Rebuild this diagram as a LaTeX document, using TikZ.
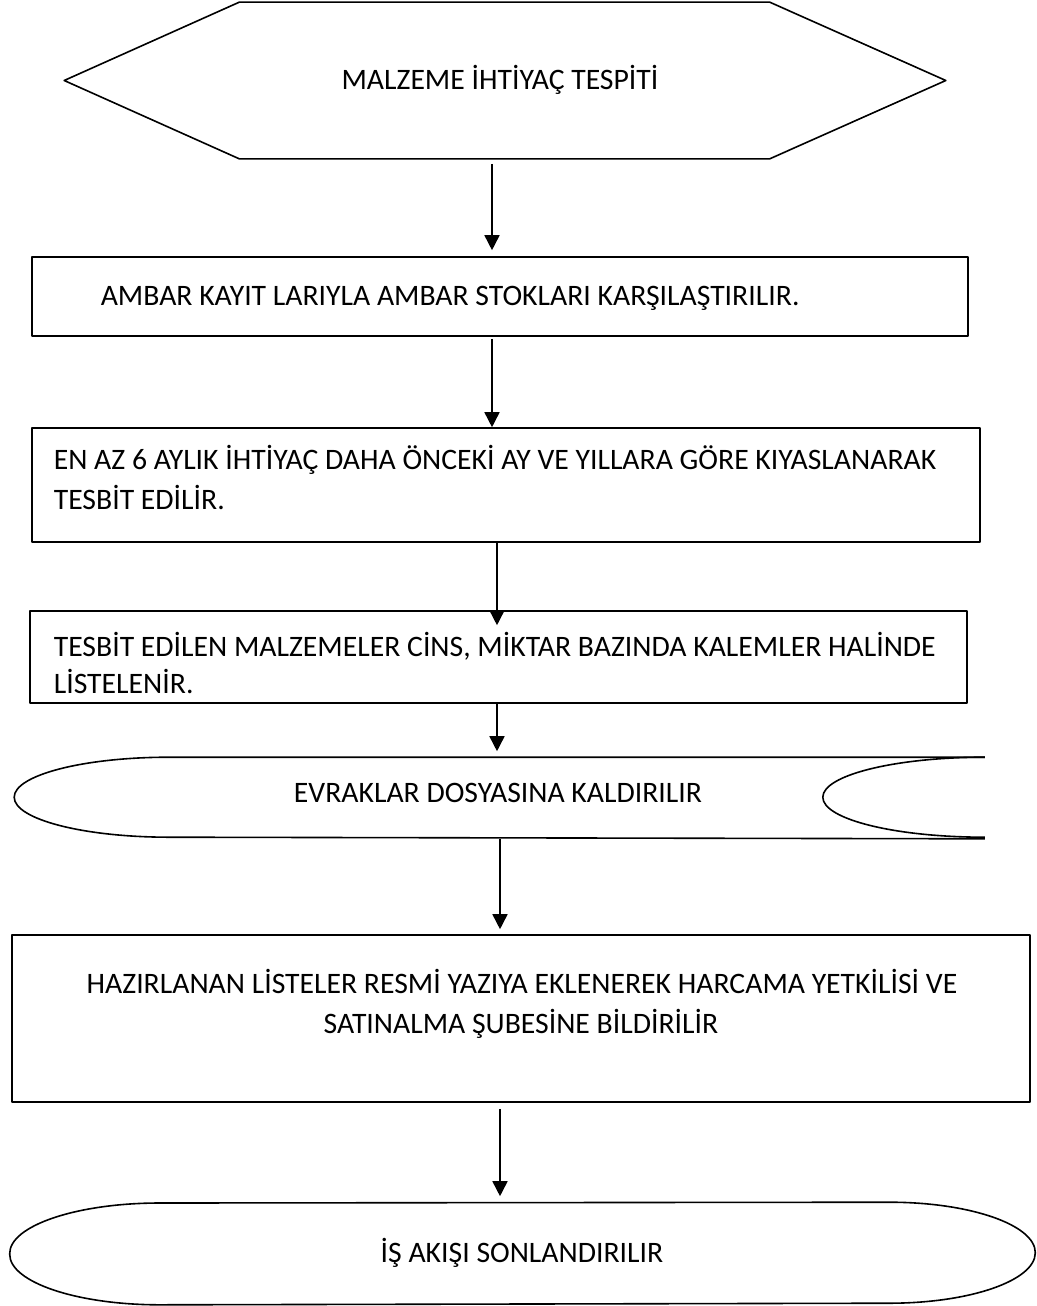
\documentclass[tikz,border=0pt]{standalone}
\usepackage{fontspec}
\setmainfont{Carlito}
\usetikzlibrary{arrows.meta,calc}
\begin{document}
\begin{tikzpicture}[x=1pt,y=-1pt,line width=1.6pt,line join=round,
  arr/.style={-{Triangle[width=15pt,length=15pt]},line width=1.6pt},
  box/.style={draw,rectangle,inner sep=0pt,line width=1.6pt},
  ghost/.style={rectangle,inner sep=0pt},
  lbl/.style={inner sep=0pt,font=\fontsize{29.7}{40}\selectfont}]
\useasboundingbox (0,0) rectangle (1036,1306);

% hexagon
\node[ghost,minimum width=880pt,minimum height=155pt] (hex) at (505,80.5) {};
\draw (hex.west) -- ([xshift=175pt]hex.north west) -- ([xshift=-176pt]hex.north east)
  -- (hex.east) -- ([xshift=-176pt]hex.south east) -- ([xshift=175pt]hex.south west) -- cycle;
\node[lbl,anchor=base] (hext) at (500,89) {MALZEME İHTİYAÇ TESPİTİ};

% box 1
\node[box,minimum width=936pt,minimum height=79pt] (b1) at (500,296.5) {};
\node[lbl,anchor=base west] (t1) at (100,305) {AMBAR KAYIT LARIYLA AMBAR STOKLARI KARŞILAŞTIRILIR.};

% box 2
\node[box,minimum width=948pt,minimum height=114pt] (b2) at (506,485) {};
\node[lbl,anchor=base west] (t2a) at (53,469) {EN AZ 6 AYLIK İHTİYAÇ DAHA ÖNCEKİ AY VE YILLARA GÖRE KIYASLANARAK};
\node[lbl,anchor=base west] (t2b) at (53,509) {TESBİT EDİLİR.};

% box 3
\node[box,minimum width=937pt,minimum height=92pt] (b3) at (498.5,657) {};
\node[lbl,anchor=base west] (t3a) at (53,656) {TESBİT EDİLEN MALZEMELER CİNS, MİKTAR BAZINDA KALEMLER HALİNDE};
\node[lbl,anchor=base west] (t3b) at (53,693) {LİSTELENİR.};

% stored data
\node[ghost,minimum width=969pt,minimum height=80pt] (store) at (499.5,798) {};
\draw (store.north east) -- ($(store.north west)+(155,0)$)
  arc[start angle=90,end angle=270,x radius=155pt,y radius=40pt] -- (store.south east);
\draw (store.north east) arc[start angle=90,end angle=270,x radius=162pt,y radius=40pt];
\node[lbl,anchor=base] (st) at (498,802) {EVRAKLAR DOSYASINA KALDIRILIR};

% box 4
\node[box,minimum width=1018pt,minimum height=167pt] (b4) at (521,1018.5) {};
\node[lbl,anchor=base] (t4a) at (522,993) {HAZIRLANAN LİSTELER RESMİ YAZIYA EKLENEREK HARCAMA YETKİLİSİ VE};
\node[lbl,anchor=base] (t4b) at (521,1033) {SATINALMA ŞUBESİNE BİLDİRİLİR};

% terminator
\node[ghost,minimum width=1024pt,minimum height=101pt] (term) at (522.5,1253.5) {};
\draw (term.west) arc[start angle=180,end angle=90,x radius=150pt,y radius=50.5pt]
  -- ($(term.north east)+(-146,0)$)
  arc[start angle=90,end angle=-90,x radius=146pt,y radius=50.5pt]
  -- ($(term.south west)+(150,0)$)
  arc[start angle=270,end angle=180,x radius=150pt,y radius=50.5pt] -- cycle;
\node[lbl,anchor=base] (tt) at (522,1262) {İŞ AKIŞI SONLANDIRILIR};

% connectors
\coordinate (c1) at (492,0);
\coordinate (c3) at (497,0);
\coordinate (c5) at (500,0);
\draw[arr,shorten <=5pt,shorten >=6pt] (hex.south -| c1) -- (b1.north -| c1);
\draw[arr,shorten <=2pt] (b1.south -| c1) -- (b2.north -| c1);
\draw[arr,shorten >=-15pt] (b2.south -| c3) -- (b3.north -| c3);
\draw[arr,shorten >=6pt] (b3.south -| c3) -- (store.north -| c3);
\draw[arr,shorten >=5pt] (store.south -| c5) -- (b4.north -| c5);
\draw[arr,shorten <=6pt,shorten >=6pt] (b4.south -| c5) -- (term.north -| c5);
\end{tikzpicture}
\end{document}
